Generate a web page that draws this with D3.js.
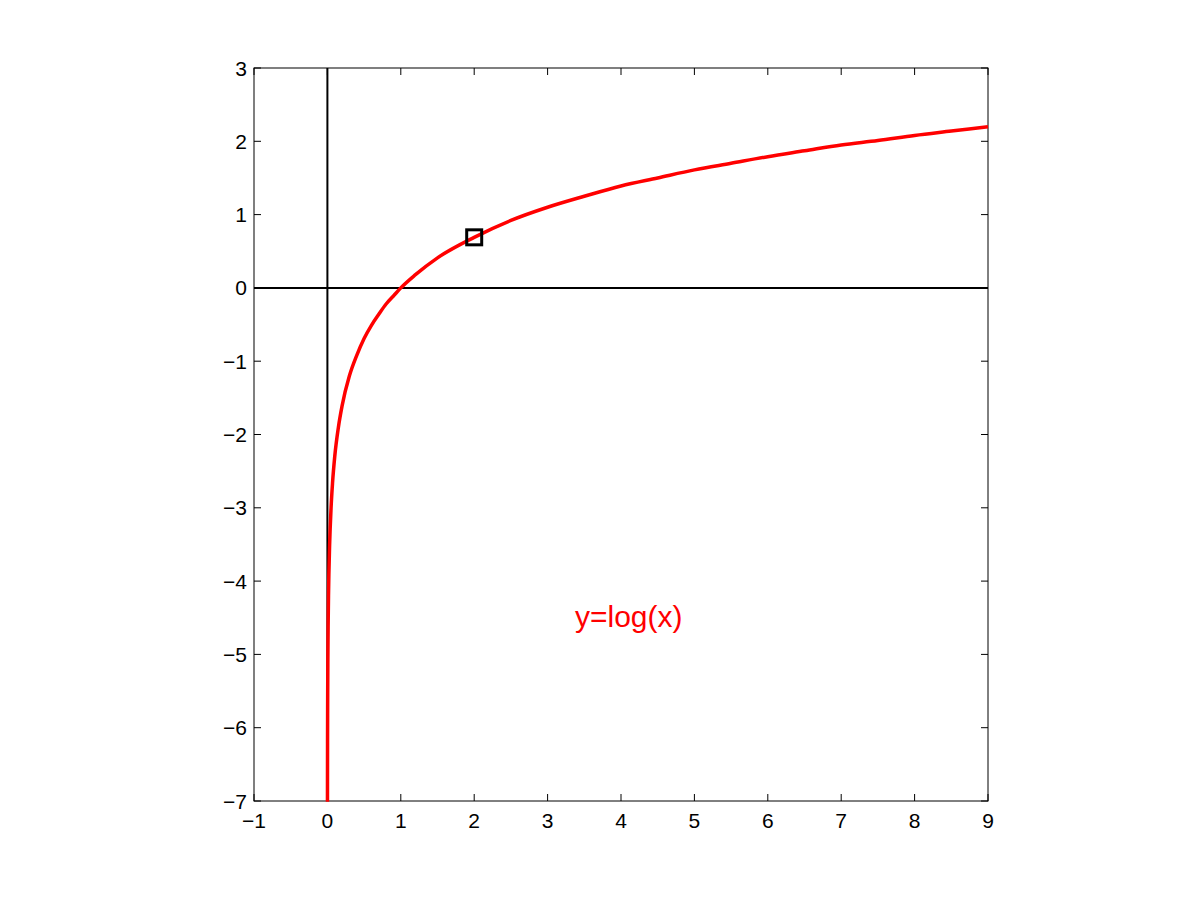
<!DOCTYPE html>
<html><head><meta charset="utf-8">
<script src="https://cdn.jsdelivr.net/npm/d3@7"></script>
<style>body{margin:0;background:#fff;} text{font-family:"Liberation Sans",Arial,sans-serif;}</style>
</head><body>
<svg id="c" width="1201" height="901"></svg>
<script>
const curveX = [0.0009, 0.0012, 0.0016, 0.002, 0.003, 0.004, 0.006, 0.008, 0.01, 0.015, 0.02, 0.03, 0.05, 0.07, 0.1, 0.15, 0.2, 0.3, 0.4, 0.5, 0.6, 0.7, 0.8, 0.9, 1, 1.2, 1.5, 2, 2.5, 3, 3.5, 4, 4.5, 5, 5.5, 6, 6.5, 7, 7.5, 8, 8.5, 9];
const curveY = [-7.01, -6.73, -6.44, -6.21, -5.81, -5.52, -5.12, -4.83, -4.61, -4.20, -3.91, -3.51, -3.00, -2.66, -2.30, -1.90, -1.61, -1.20, -0.92, -0.69, -0.51, -0.36, -0.22, -0.11, 0, 0.18, 0.41, 0.69, 0.92, 1.10, 1.25, 1.39, 1.50, 1.61, 1.70, 1.79, 1.87, 1.95, 2.01, 2.08, 2.14, 2.20];
const markerPoint = [2, 0.69];
const xTicks = [-1, 0, 1, 2, 3, 4, 5, 6, 7, 8, 9];
const yTicks = [-7, -6, -5, -4, -3, -2, -1, 0, 1, 2, 3];
const labelText = "y=log(x)";
const labelPos = [3.45, -4.5];

const svg = d3.select("#c");
const L = 254, R = 988, T = 68, B = 801;
const x = d3.scaleLinear().domain([-1, 9]).range([L, R]);
const y = d3.scaleLinear().domain([-7, 3]).range([B, T]);
const tl = 7;

const tickFmt = d => d < 0 ? "\u2212" + Math.abs(d) : String(d);

svg.append("rect").attr("x", L).attr("y", T).attr("width", R - L).attr("height", B - T)
  .attr("fill", "none").attr("stroke", "#000").attr("stroke-width", 1);

const g = svg.append("g");
xTicks.forEach(t => {
  g.append("line").attr("x1", x(t)).attr("x2", x(t)).attr("y1", B).attr("y2", B - tl).attr("stroke", "#000");
  g.append("line").attr("x1", x(t)).attr("x2", x(t)).attr("y1", T).attr("y2", T + tl).attr("stroke", "#000");
  g.append("text").attr("x", x(t)).attr("y", B + 27).attr("text-anchor", "middle")
    .attr("font-size", 21).text(tickFmt(t));
});
yTicks.forEach(t => {
  g.append("line").attr("x1", L).attr("x2", L + tl).attr("y1", y(t)).attr("y2", y(t)).attr("stroke", "#000");
  g.append("line").attr("x1", R).attr("x2", R - tl).attr("y1", y(t)).attr("y2", y(t)).attr("stroke", "#000");
  g.append("text").attr("x", L - 7).attr("y", y(t) + 7.5).attr("text-anchor", "end")
    .attr("font-size", 21).text(tickFmt(t));
});

svg.append("line").attr("x1", x(0)).attr("x2", x(0)).attr("y1", y(-7)).attr("y2", y(3))
  .attr("stroke", "#000").attr("stroke-width", 2);
svg.append("line").attr("x1", x(-1)).attr("x2", x(9)).attr("y1", y(0)).attr("y2", y(0))
  .attr("stroke", "#000").attr("stroke-width", 2);

const pts = curveX.map((v, i) => [v, curveY[i]]);
svg.append("path").datum(pts)
  .attr("d", d3.line().x(d => x(d[0])).y(d => y(d[1])).curve(d3.curveMonotoneX))
  .attr("fill", "none").attr("stroke", "#f00").attr("stroke-width", 3.5).attr("stroke-linejoin", "round");

const ms = 15;
svg.append("rect").attr("x", x(markerPoint[0]) - ms / 2).attr("y", y(markerPoint[1]) - ms / 2)
  .attr("width", ms).attr("height", ms).attr("fill", "none").attr("stroke", "#000").attr("stroke-width", 3);

svg.append("text").attr("x", 575).attr("y", y(labelPos[1]) + 9)
  .attr("fill", "#f00").attr("font-size", 30).text(labelText);
</script>
</body></html>
